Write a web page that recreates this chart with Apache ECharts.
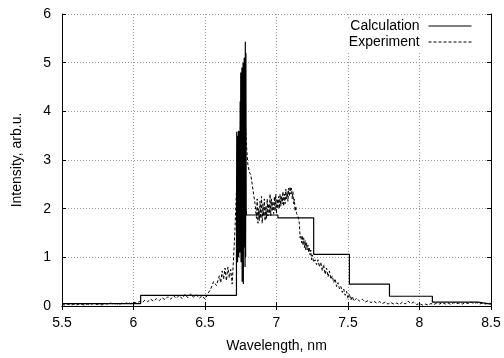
<!DOCTYPE html>
<html>
<head>
<meta charset="utf-8">
<script src="https://cdn.jsdelivr.net/npm/echarts@6/dist/echarts.min.js"></script>
<style>html,body{margin:0;padding:0;background:#fff}#c{width:504px;height:358px}</style>
</head>
<body>
<div id="c"></div>
<script>
var xTicks = [5.5, 6, 6.5, 7, 7.5, 8, 8.5];
var yTicks = [0, 1, 2, 3, 4, 5, 6];
var seriesNames = ['Calculation', 'Experiment'];

// Calculation (step histogram + dense oscillation near 6.75 nm)
var calcX = [5.5, 6.05, 6.05, 6.72, 6.72, 6.722, 6.724, 6.726, 6.728, 6.730, 6.732, 6.734, 6.736, 6.738, 6.740, 6.742, 6.744,
  6.746, 6.748, 6.750, 6.752, 6.754, 6.756, 6.758, 6.760, 6.762, 6.764, 6.766, 6.768, 6.770, 6.772, 6.774, 6.776, 6.778,
  6.780, 6.782, 6.784, 6.786, 6.788, 6.79, 7.01, 7.01, 7.26, 7.26, 7.51, 7.51, 7.79, 7.79, 8.09, 8.09, 8.41, 8.41, 8.5];
var calcY = [0.05, 0.05, 0.22, 0.22, 1.0, 3.58, 1.2, 3.5, 0.9, 3.3, 1.4, 3.6, 1.0, 3.2, 1.8, 3.55, 1.1,
  4.2, 1.5, 4.8, 0.9, 4.6, 1.9, 4.9, 0.5, 4.7, 1.6, 5.0, 0.45, 4.8, 2.1, 5.1, 1.2, 4.9,
  0.8, 5.43, 1.0, 5.2, 2.0, 1.87, 1.87, 1.81, 1.81, 1.06, 1.06, 0.45, 0.45, 0.2, 0.2, 0.08, 0.08, 0.04, 0.04];

// Experiment (dashed)
var expX = [5.50,5.52,5.54,5.56,5.58,5.60,5.62,5.64,5.66,5.68,5.70,5.72,5.74,5.76,5.78,5.80,5.82,5.84,5.86,5.88,5.90,5.92,5.94,5.96,5.98,
  6.00,6.02,6.04,6.06,6.08,6.10,6.12,6.14,6.16,6.18,6.20,6.22,6.24,6.26,6.28,6.30,6.32,6.34,6.36,6.38,6.40,6.42,6.44,6.46,6.48,
  6.50,6.52,6.54,6.56,6.58,6.60,6.61,6.62,6.63,6.64,6.65,6.66,6.67,6.68,6.69,6.70,6.71,6.72,6.73,6.74,6.745,6.75,6.755,6.76,6.765,
  6.77,6.775,6.78,6.785,6.79,6.80,6.81,6.82,6.83,6.84,6.85,6.86,6.865,6.87,6.875,6.88,6.885,6.89,6.895,6.90,6.905,6.91,6.915,6.92,
  6.925,6.93,6.935,6.94,6.945,6.95,6.955,6.96,6.965,6.97,6.975,6.98,6.985,6.99,6.995,7.00,7.005,7.01,7.015,7.02,7.025,7.03,7.035,
  7.04,7.045,7.05,7.055,7.06,7.065,7.07,7.075,7.08,7.085,7.09,7.095,7.10,7.105,7.11,7.115,7.12,7.125,7.13,7.135,7.14,7.15,7.16,
  7.165,7.17,7.175,7.18,7.185,7.19,7.195,7.20,7.205,7.21,7.215,7.22,7.225,7.23,7.235,7.24,7.245,7.25,7.26,7.27,7.28,7.29,7.30,
  7.31,7.32,7.33,7.34,7.35,7.36,7.37,7.38,7.39,7.40,7.41,7.42,7.43,7.44,7.45,7.46,7.47,7.48,7.49,7.50,7.51,7.52,7.53,7.54,7.56,
  7.58,7.60,7.62,7.64,7.66,7.68,7.70,7.72,7.74,7.76,7.78,7.80,7.82,7.84,7.86,7.88,7.90,7.92,7.94,7.96,7.98,8.00,8.02,8.04,8.06,
  8.08,8.10,8.12,8.14,8.16,8.18,8.20,8.22,8.24,8.26,8.28,8.30,8.32,8.34,8.36,8.38,8.40,8.42,8.44,8.46,8.48,8.50];
var expY = [0.03,0.02,0.04,0.02,0.03,0.02,0.04,0.03,0.02,0.04,0.03,0.05,0.03,0.04,0.02,0.05,0.04,0.06,0.04,0.05,0.03,0.06,0.05,0.07,0.05,
  0.08,0.06,0.09,0.07,0.12,0.09,0.14,0.10,0.15,0.11,0.17,0.13,0.19,0.14,0.21,0.16,0.22,0.15,0.24,0.17,0.25,0.18,0.23,0.16,0.21,
  0.14,0.25,0.35,0.50,0.42,0.62,0.48,0.72,0.55,0.78,0.52,0.80,0.58,0.75,0.45,1.0,1.6,2.4,3.0,3.6,3.2,4.2,3.9,4.7,4.4,
  4.95,4.5,4.0,3.6,3.3,2.9,2.75,2.7,2.5,2.3,2.1,1.8,2.2,1.7,2.0,1.75,2.15,1.8,2.25,1.7,2.1,1.85,2.2,1.75,
  2.05,1.8,2.2,1.85,2.1,1.9,2.3,1.85,2.2,1.95,2.15,1.9,2.25,1.95,2.3,1.9,2.2,2.0,2.25,2.0,2.3,2.05,2.25,
  2.1,2.35,2.05,2.3,2.1,2.4,2.2,2.35,2.15,2.42,2.25,2.45,2.3,2.42,2.2,2.35,2.1,2.2,1.95,2.05,1.9,1.85,1.7,
  1.4,1.45,1.3,1.45,1.25,1.4,1.2,1.35,1.15,1.3,1.15,1.25,1.1,1.2,1.05,1.15,0.95,1.05,0.9,0.95,0.85,0.95,0.8,
  0.9,0.72,0.85,0.65,0.78,0.6,0.72,0.55,0.62,0.48,0.56,0.4,0.48,0.35,0.4,0.28,0.35,0.22,0.3,0.15,0.25,0.12,0.2,0.1,0.16,
  0.1,0.14,0.08,0.11,0.07,0.1,0.06,0.09,0.05,0.08,0.04,0.07,0.04,0.06,0.03,0.08,0.04,0.1,0.05,0.08,0.03,0.05,0.02,0.04,0.02,
  0.05,0.03,0.06,0.04,0.07,0.04,0.06,0.03,0.07,0.05,0.06,0.04,0.07,0.05,0.08,0.05,0.07,0.04,0.06,0.04,0.06,0.05];

function zip(a, b) { return a.map(function (v, i) { return [v, b[i]]; }); }

var FONT = 'Liberation Sans';
var chart = echarts.init(document.getElementById('c'), null, { renderer: 'canvas' });
var baseX = {
  type: 'value', min: xTicks[0], max: xTicks[xTicks.length - 1], interval: xTicks[1] - xTicks[0],
  axisLine: { show: true, lineStyle: { color: '#000', width: 1 } },
  axisTick: { show: true, inside: true, length: 4, lineStyle: { color: '#000' } }
};
var baseY = {
  type: 'value', min: yTicks[0], max: yTicks[yTicks.length - 1], interval: yTicks[1] - yTicks[0],
  axisLine: { show: true, lineStyle: { color: '#000', width: 1 } },
  axisTick: { show: true, inside: true, length: 4, lineStyle: { color: '#000' } }
};
var legendCommon = {
  orient: 'vertical', right: 27, align: 'right', itemWidth: 43, itemHeight: 14,
  itemStyle: { color: 'rgba(0,0,0,0)', borderWidth: 0, borderColor: 'rgba(0,0,0,0)' },
  lineStyle: { color: '#000', width: 1 },
  backgroundColor: '#fff',
  textStyle: { fontSize: 14, color: '#000', fontFamily: FONT },
  formatter: function (n) { return n + ' '; }
};
chart.setOption({
  animation: false,
  backgroundColor: '#fff',
  textStyle: { fontFamily: FONT },
  grid: { left: 62, right: 13, top: 14, bottom: 49, show: false },
  legend: [
    Object.assign({}, legendCommon, { data: [seriesNames[0]], top: 18, padding: [1, 5, 1, 22] }),
    Object.assign({}, legendCommon, { data: [seriesNames[1]], top: 34, padding: [1, 5, 4, 16] })
  ],
  xAxis: [
    Object.assign({}, baseX, {
      position: 'bottom', name: 'Wavelength, nm', nameLocation: 'middle', nameGap: 33,
      nameTextStyle: { fontSize: 14, color: '#000', fontFamily: FONT },
      axisLabel: { show: true, fontSize: 14, color: '#000', margin: 10, fontFamily: FONT },
      splitLine: { show: true, lineStyle: { color: '#999', type: [1, 2], width: 1 } }
    }),
    Object.assign({}, baseX, { position: 'top', axisLabel: { show: false }, splitLine: { show: false } })
  ],
  yAxis: [
    Object.assign({}, baseY, {
      position: 'left', name: 'Intensity, arb.u.', nameLocation: 'middle', nameGap: 38, nameRotate: 90,
      nameTextStyle: { fontSize: 14, color: '#000', fontFamily: FONT },
      axisLabel: { show: true, fontSize: 14, color: '#000', margin: 11, fontFamily: FONT },
      splitLine: { show: true, lineStyle: { color: '#999', type: [1, 2], width: 1 } }
    }),
    Object.assign({}, baseY, { position: 'right', axisLabel: { show: false }, splitLine: { show: false } })
  ],
  series: [
    { name: seriesNames[0], type: 'line', data: zip(calcX, calcY), showSymbol: false, symbol: 'none',
      lineStyle: { color: '#000', width: 1.2, type: 'solid' }, itemStyle: { color: '#000' }, z: 3 },
    { name: seriesNames[1], type: 'line', data: zip(expX, expY), showSymbol: false, symbol: 'none',
      lineStyle: { color: '#000', width: 1, type: [3, 2] }, itemStyle: { color: '#000' }, z: 2 }
  ]
});
</script>
</body>
</html>
